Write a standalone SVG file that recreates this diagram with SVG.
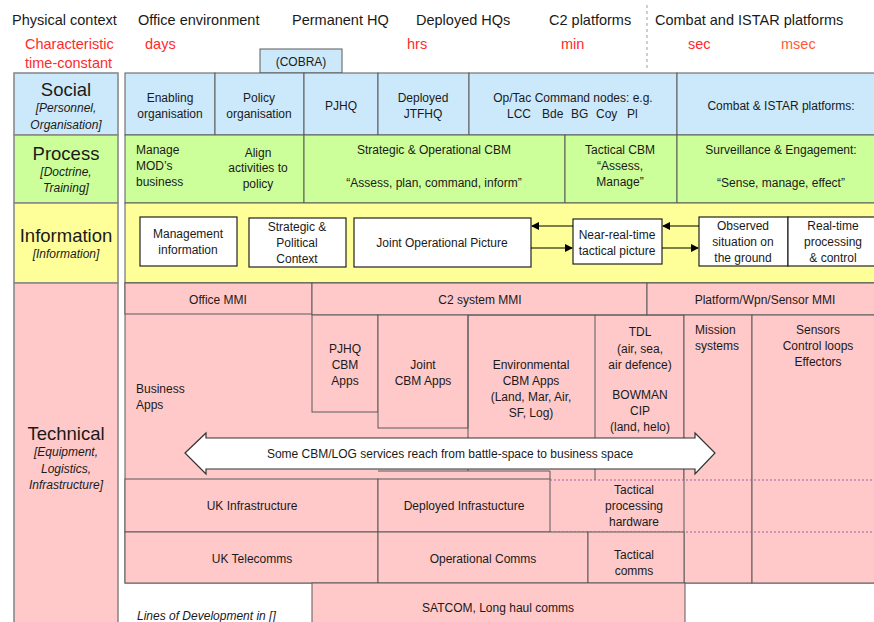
<svg xmlns="http://www.w3.org/2000/svg" width="874" height="622" viewBox="0 0 874 622">
  <style>
    text { font-family: "Liberation Sans", Arial, sans-serif; fill: #1a1a1a; }
    .hdr { font-size: 14.5px; }
    .tc { font-size: 14.5px; fill: #ff2a2a; }
    .t12 { font-size: 12px; }
    .mid { text-anchor: middle; }
    .big { font-size: 18.5px; }
    .it { font-size: 12px; font-style: italic; }
    .lab { stroke: #8a8a8a; stroke-width: 1.6; }
    .cell { stroke: #5a5a5a; stroke-width: 1; }
    .soc { fill: #cce9fb; }
    .pro { fill: #ccff99; }
    .inf { fill: #ffff99; }
    .tec { fill: #ffc9c9; }
    .box { fill: #ffffff; stroke: #222; stroke-width: 1.2; }
    .ln { stroke: #5a5a5a; stroke-width: 1; fill: none; }
    .dot { stroke: #a060a0; stroke-width: 1; stroke-dasharray: 2 2; fill: none; }
    .conn { stroke: #000; stroke-width: 1.2; fill: none; }
  </style>
  <defs>
    <marker id="head" markerWidth="8" markerHeight="8" refX="7" refY="4" orient="auto" markerUnits="userSpaceOnUse">
      <path d="M0,0 L8,4 L0,8 Z" fill="#000"/>
    </marker>
  </defs>

  <!-- header: physical context and time constants -->
  <g id="header">
    <text class="hdr" x="12" y="25">Physical context</text>
    <text class="hdr" x="138" y="25">Office environment</text>
    <text class="hdr" x="292" y="25">Permanent HQ</text>
    <text class="hdr" x="416" y="25">Deployed HQs</text>
    <text class="hdr" x="549" y="25">C2 platforms</text>
    <text class="hdr" x="655" y="25">Combat and ISTAR platforms</text>
    <line x1="647" y1="5" x2="647" y2="71" stroke="#b0b0b0" stroke-width="1.2" stroke-dasharray="3 3"/>
    <text class="tc" x="25" y="49">Characteristic</text>
    <text class="tc" x="25" y="68">time-constant</text>
    <text class="tc" x="145" y="49">days</text>
    <text class="tc" x="407" y="49">hrs</text>
    <text class="tc" x="561" y="49">min</text>
    <text class="tc" x="688" y="49">sec</text>
    <text class="tc" x="781" y="49" style="fill:#ff5a3a">msec</text>
  </g>

  <!-- layer labels -->
  <g id="layer-social">
    <rect class="lab soc" x="14" y="73" width="104" height="62"/>
    <text class="big mid" x="66" y="96">Social</text>
    <text class="it mid" x="66" y="112">[Personnel,</text>
    <text class="it mid" x="66" y="129">Organisation]</text>
  </g>
  <g id="layer-process">
    <rect class="lab pro" x="14" y="135" width="104" height="68"/>
    <text class="big mid" x="66" y="160">Process</text>
    <text class="it mid" x="66" y="176">[Doctrine,</text>
    <text class="it mid" x="66" y="192">Training]</text>
  </g>
  <g id="layer-information">
    <rect class="lab inf" x="14" y="203" width="104" height="80"/>
    <text class="big mid" x="66" y="242">Information</text>
    <text class="it mid" x="66" y="258">[Information]</text>
  </g>
  <g id="layer-technical">
    <rect class="lab tec" x="14" y="283" width="104" height="345"/>
    <text class="big mid" x="66" y="440">Technical</text>
    <text class="it mid" x="66" y="456">[Equipment,</text>
    <text class="it mid" x="66" y="473">Logistics,</text>
    <text class="it mid" x="66" y="489">Infrastructure]</text>
  </g>

  <!-- social row -->
  <g id="cobra">
    <rect class="cell soc" x="260" y="49" width="82" height="24"/>
    <text class="t12 mid" x="301" y="66">(COBRA)</text>
  </g>
  <g id="enabling-organisation">
    <rect class="cell soc" x="125" y="73" width="90" height="62"/>
    <text class="t12 mid" x="170" y="102">Enabling</text>
    <text class="t12 mid" x="170" y="118">organisation</text>
  </g>
  <g id="policy-organisation">
    <rect class="cell soc" x="215" y="73" width="89" height="62"/>
    <text class="t12 mid" x="259" y="102">Policy</text>
    <text class="t12 mid" x="259" y="118">organisation</text>
  </g>
  <g id="pjhq">
    <rect class="cell soc" x="304" y="73" width="74" height="62"/>
    <text class="t12 mid" x="341" y="110">PJHQ</text>
  </g>
  <g id="deployed-jtfhq">
    <rect class="cell soc" x="378" y="73" width="91" height="62"/>
    <text class="t12 mid" x="423" y="102">Deployed</text>
    <text class="t12 mid" x="423" y="118">JTFHQ</text>
  </g>
  <g id="command-nodes">
    <rect class="cell soc" x="469" y="73" width="208" height="62"/>
    <text class="t12 mid" x="573" y="102">Op/Tac Command nodes: e.g.</text>
    <text class="t12" x="507" y="118">LCC</text>
    <text class="t12" x="542" y="118">Bde</text>
    <text class="t12" x="571" y="118">BG</text>
    <text class="t12" x="596" y="118">Coy</text>
    <text class="t12" x="627" y="118">Pl</text>
  </g>
  <g id="combat-platforms">
    <rect class="cell soc" x="677" y="73" width="200" height="62"/>
    <text class="t12 mid" x="781" y="110">Combat &amp; ISTAR platforms:</text>
  </g>

  <!-- process row -->
  <g id="business-process">
    <rect class="cell pro" x="125" y="135" width="179" height="68"/>
    <text class="t12" x="136" y="154">Manage</text>
    <text class="t12" x="136" y="170">MOD’s</text>
    <text class="t12" x="136" y="186">business</text>
    <text class="t12 mid" x="258" y="157">Align</text>
    <text class="t12 mid" x="258" y="172">activities to</text>
    <text class="t12 mid" x="258" y="188">policy</text>
  </g>
  <g id="strategic-cbm">
    <rect class="cell pro" x="304" y="135" width="261" height="68"/>
    <text class="t12 mid" x="434" y="154">Strategic &amp; Operational CBM</text>
    <text class="t12 mid" x="434" y="187">“Assess, plan, command, inform”</text>
  </g>
  <g id="tactical-cbm">
    <rect class="cell pro" x="565" y="135" width="112" height="68"/>
    <text class="t12 mid" x="620" y="154">Tactical CBM</text>
    <text class="t12 mid" x="620" y="170">“Assess,</text>
    <text class="t12 mid" x="620" y="186">Manage”</text>
  </g>
  <g id="surveillance">
    <rect class="cell pro" x="677" y="135" width="200" height="68"/>
    <text class="t12 mid" x="781" y="154">Surveillance &amp; Engagement:</text>
    <text class="t12 mid" x="781" y="187">“Sense, manage, effect”</text>
  </g>

  <!-- information row -->
  <rect class="cell inf" x="125" y="203" width="752" height="80"/>
  <g id="management-information">
    <rect class="box" x="140" y="217" width="97" height="49"/>
    <text class="t12 mid" x="188" y="238">Management</text>
    <text class="t12 mid" x="188" y="254">information</text>
  </g>
  <g id="political-context">
    <rect class="box" x="249" y="218" width="97" height="49"/>
    <text class="t12 mid" x="297" y="231">Strategic &amp;</text>
    <text class="t12 mid" x="297" y="247">Political</text>
    <text class="t12 mid" x="297" y="263">Context</text>
  </g>
  <g id="joint-operational-picture">
    <rect class="box" x="354" y="218" width="177" height="49"/>
    <text class="t12 mid" x="442" y="247">Joint Operational Picture</text>
  </g>
  <g id="tactical-picture">
    <rect class="box" x="573" y="219" width="89" height="45"/>
    <text class="t12 mid" x="617" y="239">Near-real-time</text>
    <text class="t12 mid" x="617" y="255">tactical picture</text>
  </g>
  <g id="observed-situation">
    <rect class="box" x="699" y="217" width="89" height="49"/>
    <text class="t12 mid" x="743" y="230">Observed</text>
    <text class="t12 mid" x="743" y="246">situation on</text>
    <text class="t12 mid" x="743" y="262">the ground</text>
  </g>
  <g id="realtime-processing">
    <rect class="box" x="788" y="217" width="92" height="49"/>
    <text class="t12 mid" x="833" y="230">Real-time</text>
    <text class="t12 mid" x="833" y="246">processing</text>
    <text class="t12 mid" x="833" y="262">&amp; control</text>
  </g>

  <g id="connectors">
    <line class="conn" x1="573" y1="226" x2="532" y2="226" marker-end="url(#head)"/>
    <line class="conn" x1="531" y1="248" x2="572" y2="248" marker-end="url(#head)"/>
    <line class="conn" x1="699" y1="226" x2="663" y2="226" marker-end="url(#head)"/>
    <line class="conn" x1="662" y1="248" x2="698" y2="248" marker-end="url(#head)"/>
  </g>

  <!-- technical row -->
  <g id="technical-area">
    <rect class="cell tec" x="125" y="283" width="752" height="300"/>
  </g>
  <g id="office-mmi">
    <rect class="cell tec" x="125" y="283" width="187" height="31"/>
    <text class="t12 mid" x="218" y="304">Office MMI</text>
  </g>
  <g id="c2-mmi">
    <rect class="cell tec" x="312" y="283" width="335" height="32"/>
    <text class="t12 mid" x="480" y="304">C2 system MMI</text>
  </g>
  <g id="platform-mmi">
    <rect class="cell tec" x="647" y="283" width="230" height="32"/>
    <text class="t12 mid" x="765" y="304">Platform/Wpn/Sensor MMI</text>
  </g>
  <g id="business-apps">
    <text class="t12" x="136" y="393">Business</text>
    <text class="t12" x="136" y="409">Apps</text>
  </g>
  <g id="pjhq-apps">
    <rect class="cell tec" x="312" y="315" width="66" height="97"/>
    <text class="t12 mid" x="345" y="353">PJHQ</text>
    <text class="t12 mid" x="345" y="369">CBM</text>
    <text class="t12 mid" x="345" y="385">Apps</text>
  </g>
  <g id="joint-apps">
    <rect class="cell tec" x="378" y="315" width="90" height="113"/>
    <text class="t12 mid" x="423" y="369">Joint</text>
    <text class="t12 mid" x="423" y="385">CBM Apps</text>
  </g>
  <g id="environmental-apps">
    <path class="ln" d="M468,471 V315 H595 V480"/>
    <text class="t12 mid" x="531" y="369">Environmental</text>
    <text class="t12 mid" x="531" y="385">CBM Apps</text>
    <text class="t12 mid" x="531" y="401">(Land, Mar, Air,</text>
    <text class="t12 mid" x="531" y="417">SF, Log)</text>
  </g>
  <g id="tdl-bowman">
    <path class="ln" d="M595,315 H684 V480"/>
    <text class="t12 mid" x="640" y="336">TDL</text>
    <text class="t12 mid" x="640" y="353">(air, sea,</text>
    <text class="t12 mid" x="640" y="369">air defence)</text>
    <text class="t12 mid" x="640" y="399">BOWMAN</text>
    <text class="t12 mid" x="640" y="415">CIP</text>
    <text class="t12 mid" x="640" y="431">(land, helo)</text>
  </g>
  <g id="mission-systems">
    <rect class="cell tec" x="684" y="315" width="68" height="268"/>
    <text class="t12" x="695" y="334">Mission</text>
    <text class="t12" x="695" y="350">systems</text>
  </g>
  <g id="sensors">
    <rect class="cell tec" x="752" y="315" width="125" height="268"/>
    <text class="t12 mid" x="818" y="334">Sensors</text>
    <text class="t12 mid" x="818" y="350">Control loops</text>
    <text class="t12 mid" x="818" y="366">Effectors</text>
  </g>

  <g id="cbm-log-reach">
    <polygon points="185,453 206,433 206,438 695,438 695,433 715,453 695,474 695,469 206,469 206,474" fill="#ffffff" stroke="#333" stroke-width="1.2"/>
    <text class="t12 mid" x="450" y="458">Some CBM/LOG services reach from battle-space to business space</text>
  </g>

  <g id="uk-infrastructure">
    <rect class="cell tec" x="125" y="479" width="253" height="53"/>
    <text class="t12 mid" x="252" y="510">UK Infrastructure</text>
  </g>
  <g id="deployed-infrastructure">
    <path class="ln" d="M378,471 H550 V479"/>
    <rect class="cell tec" x="378" y="479" width="172" height="53"/>
    <text class="t12 mid" x="464" y="510">Deployed Infrastucture</text>
  </g>
  <g id="tactical-processing">
    <path class="dot" d="M550,480 H877 M550,532 H877"/>
    <text class="t12 mid" x="634" y="494">Tactical</text>
    <text class="t12 mid" x="634" y="510">processing</text>
    <text class="t12 mid" x="634" y="526">hardware</text>
  </g>
  <g id="uk-telecomms">
    <rect class="cell tec" x="125" y="532" width="253" height="51"/>
    <text class="t12 mid" x="252" y="563">UK Telecomms</text>
  </g>
  <g id="operational-comms">
    <rect class="cell tec" x="378" y="532" width="210" height="51"/>
    <text class="t12 mid" x="483" y="563">Operational Comms</text>
  </g>
  <g id="tactical-comms">
    <rect class="cell tec" x="588" y="532" width="96" height="51"/>
    <text class="t12 mid" x="634" y="559">Tactical</text>
    <text class="t12 mid" x="634" y="575">comms</text>
  </g>
  <g id="satcom">
    <rect class="cell tec" x="312" y="583" width="373" height="45"/>
    <text class="t12 mid" x="498" y="612">SATCOM, Long haul comms</text>
  </g>

  <text class="it" x="137" y="620">Lines of Development in []</text>
</svg>
